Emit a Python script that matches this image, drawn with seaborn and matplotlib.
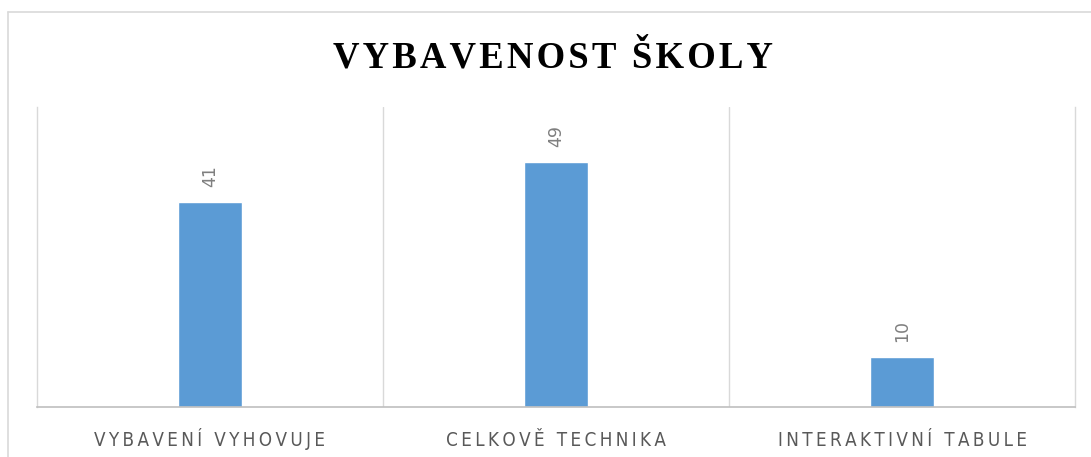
import matplotlib
matplotlib.use("Agg")
import pandas as pd
import seaborn as sns
import matplotlib.pyplot as plt
from matplotlib.lines import Line2D

categories = ["VYBAVENÍ VYHOVUJE", "CELKOVĚ TECHNIKA", "INTERAKTIVNÍ TABULE"]
values = [41, 49, 10]
title = "VYBAVENOST ŠKOLY"


def spaced(text, gap):
    # fake letter spacing with narrow unicode spaces
    return gap.join(text)


df = pd.DataFrame({"kategorie": categories, "pocet": values})

sns.set_style("white")
plt.rcParams["font.family"] = ["DejaVu Sans"]

fig = plt.figure(figsize=(10.91, 4.57), dpi=100)
ax = fig.add_axes([37 / 1091, 50 / 457, 1038 / 1091, 300 / 457])

sns.barplot(data=df, x="kategorie", y="pocet", color="#5B9BD5",
            width=0.185, saturation=1, ax=ax)

ax.set_xlim(-0.5, 2.5)
ax.set_ylim(0, 60)
ax.set_yticks([])
ax.set_xlabel("")
ax.set_ylabel("")

# category separators
ax.set_xticks([0.5, 1.5], minor=True)
ax.grid(True, which="minor", axis="x", color="#d9d9d9", linewidth=1)
ax.tick_params(axis="x", which="both", length=0)
ax.tick_params(axis="x", pad=28)
ax.set_xticks(range(len(categories)))
ax.set_xticklabels([spaced(c, "\u2009") for c in categories])
for lbl in ax.get_xticklabels():
    lbl.set_fontsize(13.5)
    lbl.set_color("#595959")
    lbl.set_fontstretch("condensed")
    lbl.set_verticalalignment("baseline")

for side in ["left", "right"]:
    ax.spines[side].set_color("#d9d9d9")
    ax.spines[side].set_linewidth(1)
ax.spines["top"].set_visible(False)
ax.spines["bottom"].set_color("#bfbfbf")
ax.spines["bottom"].set_linewidth(1.2)

ax.bar_label(ax.containers[0], rotation=90, padding=11,
             fontsize=12.5, color="#7f7f7f")

fig.text(553 / 1091, 1 - 67 / 457, spaced(title, "\u200a"), ha="center",
         va="baseline", fontsize=26.5, fontweight="bold", color="black",
         family=["Liberation Serif", "DejaVu Serif"])

# outer chart border
fig.add_artist(Line2D([8 / 1091, 8 / 1091], [0, 1 - 12 / 457],
                      transform=fig.transFigure, color="#d9d9d9", lw=1.2))
fig.add_artist(Line2D([8 / 1091, 1], [1 - 12 / 457, 1 - 12 / 457],
                      transform=fig.transFigure, color="#d9d9d9", lw=1.2))

fig.savefig("out.png", dpi=100)
